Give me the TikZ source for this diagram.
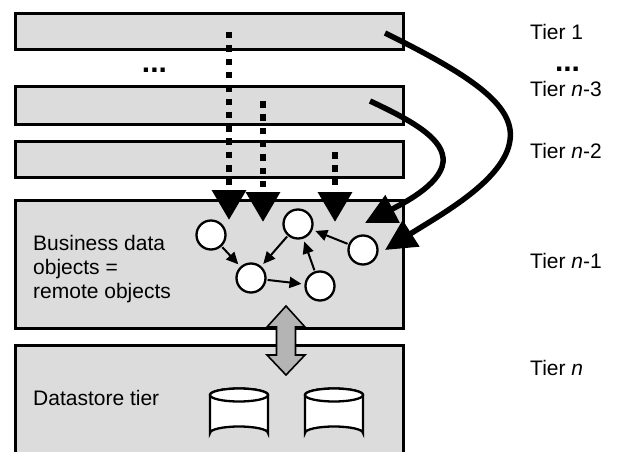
\documentclass[tikz,border=0pt]{standalone}
\usepackage{fontspec}
\setmainfont{Liberation Sans}
\usetikzlibrary{arrows.meta}
\definecolor{tierfill}{HTML}{DCDCDC}
\definecolor{pipefill}{HTML}{B4B4B4}
\tikzset{
  tierbox/.style={draw=black, line width=3pt, fill=tierfill},
  obj/.style={circle, draw=black, fill=white, line width=2.3pt, minimum size=29pt, inner sep=0pt},
  call/.style={line width=2pt, -{Triangle[width=11pt,length=12pt]}, shorten >=3pt, shorten <=1pt},
  lookup/.style={line width=6.5pt, dash pattern=on 6.5pt off 6.8pt, -{Triangle[width=33pt,length=30pt]}},
  remote/.style={line width=5.5pt, -{Triangle[width=30pt,length=31pt]}},
  lbl/.style={anchor=base west, inner sep=0pt, font=\fontsize{21}{24}\selectfont},
  dbcyl/.style={draw=black, fill=white, line width=2.3pt},
}
\begin{document}
\begin{tikzpicture}[x=1pt, y=-1pt]
  \useasboundingbox (0,0) rectangle (640,452);
  \clip (0,0) rectangle (640,452);

  % tier boxes
  \node[tierbox, minimum width=388.5pt, minimum height=36.5pt, inner sep=0pt] (t1) at (209.25,31.75) {};
  \node[tierbox, minimum width=388.5pt, minimum height=37.5pt, inner sep=0pt] (t3) at (209.25,105.25) {};
  \node[tierbox, minimum width=388.5pt, minimum height=36.5pt, inner sep=0pt] (t2) at (209.25,159.25) {};
  \node[tierbox, minimum width=388.5pt, minimum height=128.5pt, inner sep=0pt] (tb) at (209.25,264.25) {};
  \node[tierbox, minimum width=388.5pt, minimum height=140pt, inner sep=0pt] (td) at (209.25,415) {};

  % ellipses between tiers
  \node[anchor=base, inner sep=0pt, font=\fontsize{30}{30}\selectfont\bfseries] (dotsl) at (154.5,73) {...};
  \node[anchor=base, inner sep=0pt, font=\fontsize{30}{30}\selectfont\bfseries] (dotsr) at (567.5,72) {...};

  % tier labels
  \node[lbl] (l1) at (530,40) {Tier 1};
  \node[lbl] (l3) at (530,96) {Tier \textit{n}-3};
  \node[lbl] (l2) at (530,158) {Tier \textit{n}-2};
  \node[lbl] (lb) at (530,268) {Tier \textit{n}-1};
  \node[lbl] (ld) at (530,375) {Tier \textit{n}};

  % box texts
  \node[lbl] (bt1) at (33,250) {Business data};
  \node[lbl] (bt2) at (33,274) {objects =};
  \node[lbl] (bt3) at (33,298) {remote objects};
  \node[lbl] (dt) at (33,405) {Datastore tier};

  % business objects
  \node[obj] (o1) at (211,235) {};
  \node[obj] (o2) at (251,278) {};
  \node[obj] (o3) at (298,224) {};
  \node[obj] (o4) at (320,286) {};
  \node[obj] (o5) at (363,250) {};
  \draw[call] (o1) -- (o2);
  \draw[call] (o3) -- (o2);
  \draw[call] (o2) -- (o4);
  \draw[call] (o4) -- (o3);
  \draw[call] (o5) -- (o3);

  % dotted calls from upper tiers
  \coordinate (d1s) at (229,32);
  \coordinate (d1e) at (229,220);
  \coordinate (d2s) at (263,101);
  \coordinate (d2e) at (263,222);
  \coordinate (d3s) at (335,152);
  \coordinate (d3e) at (335,222);
  \draw[lookup] (d1s) -- (d1e);
  \draw[lookup] (d2s) -- (d2e);
  \draw[lookup] (d3s) -- (d3e);

  % remote calls from upper tiers
  \coordinate (r1s) at (385,33);
  \coordinate (r1e) at (385,250);
  \coordinate (r3s) at (370,101);
  \coordinate (r3e) at (365,223);
  \draw[remote] (r1s) .. controls (470,75) and (515,105) .. (510,140)
                      .. controls (505,180) and (440,215) .. (r1e);
  \draw[remote] (r3s) .. controls (415,122) and (445,140) .. (443,162)
                      .. controls (441,185) and (400,205) .. (r3e);

  % access between business tier and datastore
  \draw[line width=1.6pt, fill=pipefill]
    (286,306) -- (305,327) -- (295.5,327) -- (295.5,355) -- (305,355) -- (286,375)
    -- (267,355) -- (276.5,355) -- (276.5,327) -- (267,327) -- cycle;

  % databases
  \foreach \cx/\nm in {239/db1, 334/db2} {
    \draw[dbcyl] (\cx-29,395) -- (\cx-29,433) arc[start angle=180, end angle=360, x radius=29, y radius=6.5]
      -- (\cx+29,395) arc[start angle=0, end angle=-180, x radius=29, y radius=6.5] -- cycle;
    \draw[dbcyl] (\cx,395) ellipse[x radius=29, y radius=6.5];
  }
\end{tikzpicture}
\end{document}
